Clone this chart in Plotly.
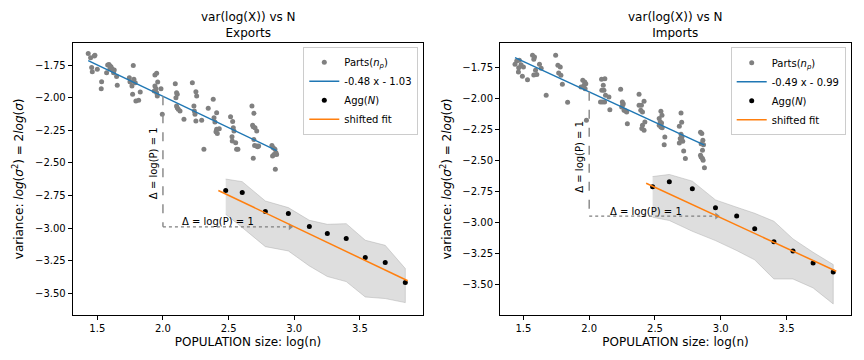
import plotly.graph_objects as go

# ---------------- DATA ----------------
# Exports: parts (n_p)
exp_parts_x = [1.431, 1.449, 1.482, 1.477, 1.457, 1.462, 1.500, 1.533, 1.530,
               1.571, 1.579, 1.589, 1.596, 1.604, 1.612, 1.617, 1.596, 1.624, 1.647, 1.652, 1.629,
               1.774, 1.744, 1.754, 1.779, 1.789, 1.769, 1.794, 1.815, 1.827, 1.749, 1.764,
               1.939, 1.952, 1.960, 1.939, 1.947, 1.952, 1.957, 1.934, 1.985, 1.995,
               2.094, 2.104, 2.109, 2.099, 2.104, 2.117, 2.130, 2.109, 2.160, 2.224, 2.236, 2.244, 2.251, 2.251, 2.257, 2.239,
               2.295, 2.312, 2.345, 2.383, 2.389, 2.396, 2.404, 2.409, 2.414, 2.429, 2.409,
               2.515, 2.531, 2.526, 2.528, 2.536, 2.541, 2.561, 2.571, 2.554,
               2.678, 2.693, 2.683, 2.688, 2.701, 2.714, 2.693, 2.714, 2.688, 2.698, 2.721, 2.729,
               2.830, 2.840, 2.853, 2.861, 2.846, 2.835, 2.866, 2.856]
exp_parts_y = [-1.661, -1.694, -1.676, -1.681, -1.770, -1.801, -1.783, -1.878, -1.931,
               -1.809, -1.750, -1.747, -1.758, -1.763, -1.778, -1.788, -1.778, -1.809, -1.839, -1.906, -1.788,
               -1.753, -1.847, -1.880, -1.860, -1.885, -1.975, -2.026, -2.021, -1.957, -1.878, -1.911,
               -1.827, -1.814, -1.880, -1.911, -1.931, -1.962, -1.988, -1.949, -1.931, -2.128,
               -1.893, -1.962, -1.975, -2.000, -2.064, -2.090, -2.102, -2.077, -2.166, -1.885, -2.064, -2.128, -2.179, -1.954, -1.988, -2.102,
               -2.174, -2.396, -2.082, -2.013, -2.154, -2.187, -2.261, -2.115, -2.274, -2.238, -2.243,
               -2.146, -2.182, -2.299, -2.332, -2.230, -2.256, -2.396, -2.396, -2.345,
               -2.064, -2.120, -2.212, -2.223, -2.230, -2.256, -2.320, -2.371, -2.465, -2.366, -2.376, -2.371,
               -2.366, -2.384, -2.396, -2.422, -2.435, -2.447, -2.435, -2.549]
# Exports: aggregate (N)
exp_agg_x = [2.478, 2.604, 2.780, 2.955, 3.115, 3.252, 3.396, 3.541, 3.693, 3.846]
exp_agg_y = [-2.712, -2.728, -2.873, -2.889, -2.988, -3.042, -3.080, -3.226, -3.264, -3.417]
exp_band_hi = [-2.624, -2.644, -2.792, -2.843, -2.940, -2.971, -2.966, -3.093, -3.132, -3.310]
exp_band_lo = [-2.894, -2.996, -3.142, -3.175, -3.290, -3.371, -3.410, -3.528, -3.540, -3.571]
exp_fit = (-0.48, -1.03)          # slope, intercept of parts fit
exp_fit_label = "-0.48 x - 1.03"
exp_shift = (-0.48, -1.549)       # shifted fit
exp_shift_x = [2.422, 3.864]

# Imports: parts (n_p)
imp_parts_x = [1.436, 1.449, 1.469, 1.482, 1.464, 1.462, 1.492, 1.500, 1.531, 1.569, 1.584, 1.579, 1.592,
               1.602, 1.622, 1.635, 1.579, 1.673, 1.745, 1.762, 1.780, 1.768, 1.785, 1.796, 1.836,
               1.951, 1.966, 1.974, 1.961, 1.969, 1.938, 1.979,
               2.094, 2.119, 2.107, 2.112, 2.096, 2.124, 2.101, 2.117, 2.150, 2.157, 2.086,
               2.239, 2.252, 2.259, 2.247, 2.265, 2.277, 2.290, 2.285, 2.254,
               2.379, 2.379, 2.397, 2.392, 2.405, 2.417, 2.405, 2.423, 2.417, 2.400,
               2.545, 2.553, 2.532, 2.540, 2.545, 2.532, 2.555, 2.575, 2.570, 2.550,
               2.698, 2.703, 2.685, 2.698, 2.705, 2.692, 2.711, 2.685, 2.718, 2.731, 2.700,
               2.846, 2.856, 2.864, 2.851, 2.861, 2.846, 2.851, 2.861, 2.866, 2.876, 2.869]
imp_parts_y = [-1.723, -1.696, -1.691, -1.726, -1.750, -1.785, -1.820, -1.745, -1.847, -1.651, -1.664, -1.683, -1.771,
               -1.806, -1.723, -1.755, -1.809, -1.973, -1.651, -1.731, -1.745, -1.793, -1.812, -1.884, -2.029,
               -1.852, -1.865, -1.879, -1.892, -1.919, -1.906, -2.174,
               -1.844, -1.839, -1.892, -1.932, -1.932, -1.973, -2.026, -2.026, -1.986, -2.088, -2.026,
               -1.924, -2.026, -2.040, -2.067, -2.093, -2.099, -2.201, -2.107, -2.053,
               -1.965, -2.053, -2.053, -2.093, -2.107, -2.021, -2.214, -2.187, -2.254, -2.241,
               -2.101, -2.134, -2.160, -2.187, -2.227, -2.214, -2.233, -2.308, -2.370, -2.195,
               -2.115, -2.190, -2.222, -2.286, -2.308, -2.321, -2.343, -2.356, -2.421, -2.482, -2.335,
               -2.270, -2.281, -2.335, -2.362, -2.415, -2.455, -2.469, -2.482, -2.496, -2.557, -2.370]
# Imports: aggregate (N)
imp_agg_x = [2.482, 2.609, 2.784, 2.960, 3.121, 3.258, 3.404, 3.549, 3.702, 3.855]
imp_agg_y = [-2.710, -2.669, -2.726, -2.879, -2.944, -3.048, -3.153, -3.226, -3.323, -3.395]
imp_band_hi = [-2.627, -2.610, -2.664, -2.815, -2.874, -2.923, -2.987, -3.129, -3.237, -3.336]
imp_band_lo = [-2.955, -2.981, -3.068, -3.143, -3.223, -3.298, -3.452, -3.452, -3.524, -3.653]
imp_fit = (-0.49, -0.965)
imp_fit_label = "-0.49 x - 0.99"
imp_shift = (-0.49, -1.489)
imp_shift_x = [2.433, 3.878]

delta = 1.0          # log(P)
delta_x0 = 2.0

# ---------------- FIGURE ----------------
W, H = 864, 360
BLUE, ORANGE, GRAY = "#1f77b4", "#ff7f0e", "#808080"
FONT = "DejaVu Sans"

fig = go.Figure()


def panel(px, py, ax, ay, band_hi, band_lo, fit, fit_label, shift, shift_x, xa, ya, leg,
          vtext_pos, htext_pos):
    # band
    fig.add_trace(go.Scatter(x=ax + ax[::-1], y=band_hi + band_lo[::-1], fill="toself",
                             fillcolor="rgba(190,190,190,0.5)", line=dict(color="rgba(160,160,160,0.5)", width=0.8),
                             mode="lines", showlegend=False, hoverinfo="skip", xaxis=xa, yaxis=ya))
    # parts scatter
    fig.add_trace(go.Scatter(x=px, y=py, mode="markers", name="Parts(<i>n</i><sub><i>p</i></sub>)",
                             marker=dict(color=GRAY, size=5), xaxis=xa, yaxis=ya, legend=leg, legendrank=1))
    # parts fit line
    fx = [min(px), max(px)]
    fig.add_trace(go.Scatter(x=fx, y=[fit[0] * v + fit[1] for v in fx], mode="lines", name=fit_label,
                             line=dict(color=BLUE, width=1.5), xaxis=xa, yaxis=ya, legend=leg, legendrank=2))
    # delta guides
    y_top = fit[0] * delta_x0 + fit[1]
    y_bot = y_top - delta
    fig.add_trace(go.Scatter(x=[delta_x0, delta_x0], y=[y_top, y_bot], mode="lines",
                             line=dict(color="#8c8c8c", width=1.5, dash="dash"),
                             showlegend=False, hoverinfo="skip", xaxis=xa, yaxis=ya))
    fig.add_trace(go.Scatter(x=[delta_x0, delta_x0 + delta * 0.97], y=[y_bot, y_bot], mode="lines",
                             line=dict(color="#7f7f7f", width=1.2, dash="dot"),
                             showlegend=False, hoverinfo="skip", xaxis=xa, yaxis=ya))
    fig.add_trace(go.Scatter(x=[delta_x0 + delta * 0.97], y=[y_bot], mode="markers",
                             marker=dict(symbol="triangle-right", size=6, color="#8c8c8c"),
                             showlegend=False, hoverinfo="skip", xaxis=xa, yaxis=ya))
    # aggregate points
    fig.add_trace(go.Scatter(x=ax, y=ay, mode="markers", name="Agg(<i>N</i>)",
                             marker=dict(color="black", size=5), xaxis=xa, yaxis=ya, legend=leg, legendrank=3))
    # shifted fit
    fig.add_trace(go.Scatter(x=shift_x, y=[shift[0] * v + shift[1] for v in shift_x], mode="lines",
                             name="shifted fit", line=dict(color=ORANGE, width=1.5),
                             xaxis=xa, yaxis=ya, legend=leg, legendrank=4))
    fig.add_annotation(x=vtext_pos[0], y=vtext_pos[1], xref=xa, yref=ya, text="Δ = log(P) = 1",
                       textangle=-90, showarrow=False, font=dict(size=10, color="black", family=FONT))
    fig.add_annotation(x=htext_pos[0], y=htext_pos[1], xref=xa, yref=ya, text="Δ = log(P) = 1",
                       showarrow=False, font=dict(size=10, color="black", family=FONT))


panel(exp_parts_x, exp_parts_y, exp_agg_x, exp_agg_y, exp_band_hi, exp_band_lo, exp_fit, exp_fit_label,
      exp_shift, exp_shift_x, "x", "y", "legend", (1.934, -2.50), (2.422, -2.946))
panel(imp_parts_x, imp_parts_y, imp_agg_x, imp_agg_y, imp_band_hi, imp_band_lo, imp_fit, imp_fit_label,
      imp_shift, imp_shift_x, "x2", "y2", "legend2", (1.920, -2.47), (2.435, -2.909))

ytitle = "variance: <i>log</i>(<i>σ</i><sup>2</sup>) = 2<i>log</i>(<i>σ</i>)"
xtitle = "POPULATION size: log(n)"

axis_common = dict(showgrid=False, zeroline=False, showline=True, linecolor="black", linewidth=1,
                   mirror=True, ticks="outside", ticklen=4, tickcolor="black",
                   tickfont=dict(size=10, color="black", family=FONT), automargin=False)

fig.update_layout(
    width=W, height=H, margin=dict(l=0, r=0, t=0, b=0),
    paper_bgcolor="white", plot_bgcolor="white",
    font=dict(family=FONT, color="black"),
    xaxis=dict(domain=[72.7 / W, 423.3 / W], range=[1.3127, 3.983], dtick=0.5, tickformat=".1f",
               title=dict(text=xtitle, font=dict(size=12), standoff=4), anchor="y", **axis_common),
    yaxis=dict(domain=[1 - 315 / H, 1 - 42.7 / H], range=[-3.666, -1.579], dtick=0.25, tick0=-1.75,
               tickformat=".2f", title=dict(text=ytitle, font=dict(size=12), standoff=8), anchor="x",
               **axis_common),
    xaxis2=dict(domain=[500 / W, 851 / W], range=[1.322, 3.99], dtick=0.5, tickformat=".1f",
                title=dict(text=xtitle, font=dict(size=12), standoff=4), anchor="y2", **axis_common),
    yaxis2=dict(domain=[1 - 315 / H, 1 - 42.7 / H], range=[-3.742, -1.549], dtick=0.25, tick0=-1.75,
                tickformat=".2f", title=dict(text=ytitle, font=dict(size=12), standoff=8), anchor="x2",
                **axis_common),
    legend=dict(x=418.3 / W, y=1 - 46.7 / H, xanchor="right", yanchor="top", bgcolor="rgba(255,255,255,0.8)",
                bordercolor="#cccccc", borderwidth=1, font=dict(size=10, family=FONT), itemwidth=30),
    legend2=dict(x=845.7 / W, y=1 - 47.3 / H, xanchor="right", yanchor="top", bgcolor="rgba(255,255,255,0.8)",
                 bordercolor="#cccccc", borderwidth=1, font=dict(size=10, family=FONT), itemwidth=30),
    showlegend=True,
)

for dom, sub in ((fig.layout.xaxis.domain, "Exports"), (fig.layout.xaxis2.domain, "Imports")):
    fig.add_annotation(x=(dom[0] + dom[1]) / 2, y=1 - 25 / H, xref="paper", yref="paper",
                       yanchor="middle", xanchor="center",
                       text="var(log(X)) vs N<br>" + sub, showarrow=False,
                       font=dict(size=12, color="black", family=FONT))

fig.write_html("out.html", config={"displayModeBar": False},
               post_script="document.body.style.margin='0';document.body.style.padding='0';")
